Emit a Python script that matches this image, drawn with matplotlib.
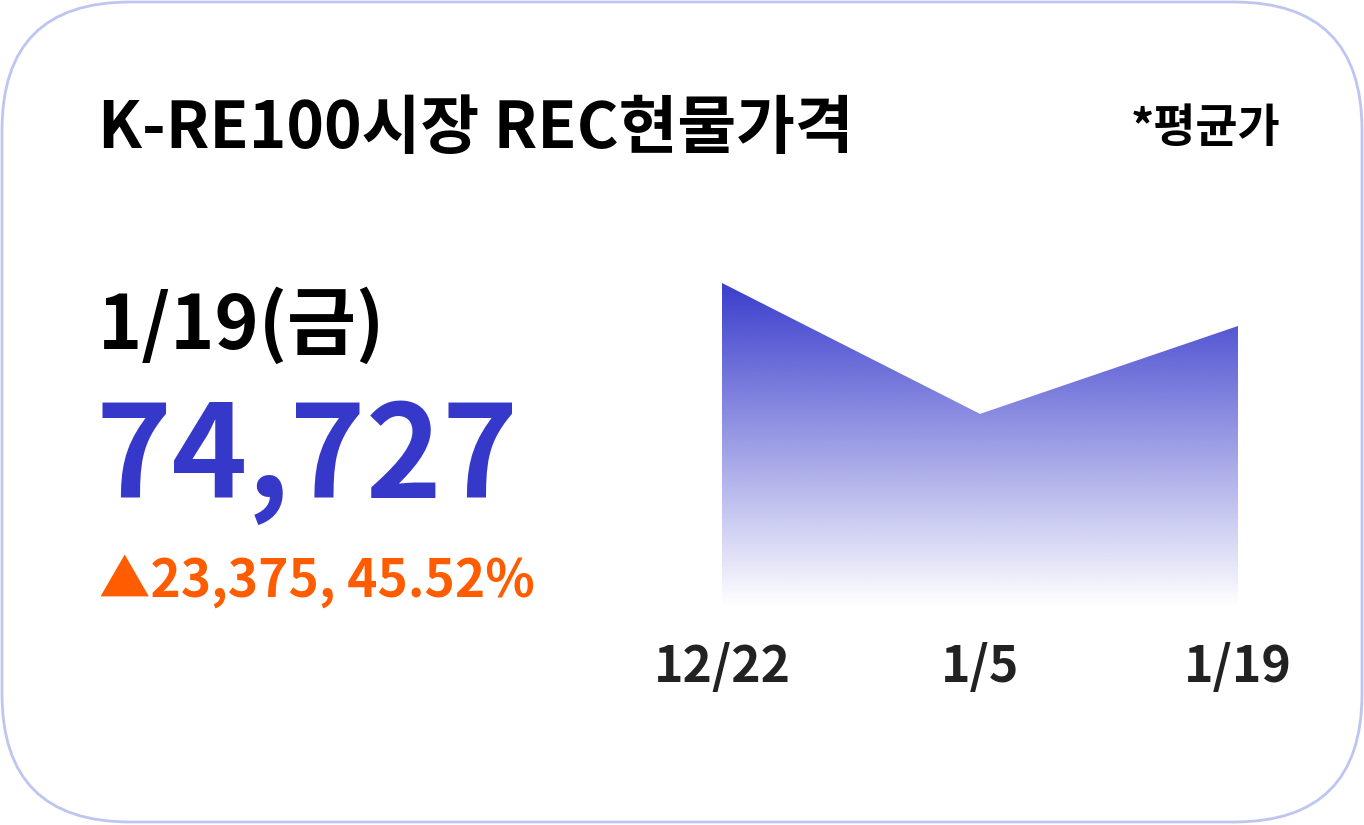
import numpy as np
import matplotlib.pyplot as plt
from matplotlib.patches import FancyBboxPatch

plt.rcParams['font.family'] = ['Noto Sans CJK KR', 'DejaVu Sans']

# 데이터
dates = ['12/22', '1/5', '1/19']
prices = [86160, 51352, 74727]
title = 'K-RE100시장 REC현물가격'
note = '*평균가'
day_label = '1/19(금)'
last_price = '74,727'
change_text = '▲23,375, 45.52%'

fig = plt.figure(figsize=(13.64, 8.25), dpi=100)

# 카드 배경 (픽셀 좌표)
bg = fig.add_axes([0, 0, 1, 1])
bg.set_xlim(0, 1364)
bg.set_ylim(825, 0)
bg.axis('off')
card = FancyBboxPatch((2, 2), 1360, 820, boxstyle='round,pad=0,rounding_size=128',
                      facecolor='white', edgecolor='#bec5f0', linewidth=2)
bg.add_patch(card)

bg.text(98, 148, title, fontsize=46, fontweight='bold', color='black', va='baseline', ha='left')
bg.text(1280, 142, note, fontsize=33, fontweight='bold', color='black', va='baseline', ha='right')
bg.text(98, 349, day_label, fontsize=54, fontweight='bold', color='black', va='baseline', ha='left')
bg.text(96, 498, last_price, fontsize=93, fontweight='bold', color='#3538c8', va='baseline', ha='left')
bg.text(99, 597, change_text, fontsize=37, fontweight='bold', color='#ff5c00', va='baseline', ha='left')

# 면적 차트
W, H = 1364, 825
left, right, base, top = 722, 1238, 607, 283
ax = fig.add_axes([left / W, 1 - base / H, (right - left) / W, (base - top) / H])
x = np.arange(len(prices))
ax.set_xlim(0, len(prices) - 1)
ax.set_ylim(0, max(prices))
poly = ax.fill_between(x, prices, 0, color='none', linewidth=0)

grad = np.zeros((256, 1, 4))
grad[:, 0, 0] = 0x3a / 255
grad[:, 0, 1] = 0x3d / 255
grad[:, 0, 2] = 0xcc / 255
grad[:, 0, 3] = np.linspace(1, 0, 256)
img = ax.imshow(grad, aspect='auto', extent=[0, len(prices) - 1, 0, max(prices)],
                origin='upper', zorder=1)
img.set_clip_path(poly.get_paths()[0], transform=ax.transData)

ax.set_xticks(x)
ax.set_xticklabels(dates, fontsize=36, fontweight='bold', color='#222222')
ax.tick_params(axis='x', length=0, pad=25)
ax.set_yticks([])
for s in ax.spines.values():
    s.set_visible(False)
ax.patch.set_alpha(0)

fig.savefig('out.png', dpi=100)
